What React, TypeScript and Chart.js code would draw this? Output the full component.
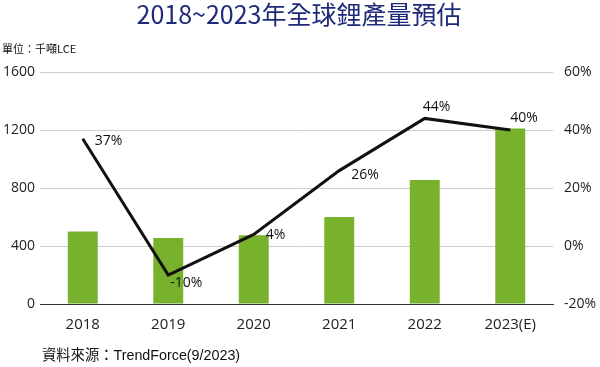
import React, { useEffect, useRef } from "react";
import { Chart, registerables } from "chart.js";

Chart.register(...registerables);

const categories = ["2018", "2019", "2020", "2021", "2022", "2023(E)"];
const production = [500, 455, 475, 600, 855, 1210];
const growth = [37, -10, 4, 26, 44, 40];
const growthLabels = ["37%", "-10%", "4%", "26%", "44%", "40%"];
const leftTicks = [0, 400, 800, 1200, 1600];
const rightTicks = [-20, 0, 20, 40, 60];

const titleText = "2018~2023年全球鋰產量預估";
const unitText = "單位：千噸LCE";
const sourceText = "資料來源：TrendForce(9/2023)";

const labelOffsets = [
  { dx: 12, dy: 2 },
  { dx: 2, dy: 8 },
  { dx: 12, dy: 1 },
  { dx: 12, dy: 4 },
  { dx: -2, dy: -11 },
  { dx: 0, dy: -12 },
];

const FONT = "'Open Sans', 'Noto Sans', sans-serif";
const CJK = "'Noto Sans CJK TC', 'Noto Sans', sans-serif";
const SRC = "'Liberation Sans', 'Noto Sans CJK TC', sans-serif";

const textPlugin = {
  id: "texts",
  afterDatasetsDraw(chart: any) {
    const ctx = chart.ctx;
    ctx.save();
    const meta = chart.getDatasetMeta(1);
    ctx.font = `14px ${FONT}`;
    ctx.fillStyle = "#111";
    ctx.textBaseline = "middle";
    ctx.textAlign = "left";
    meta.data.forEach((pt: any, i: number) => {
      const o = labelOffsets[i];
      ctx.fillText(growthLabels[i], pt.x + o.dx, pt.y + o.dy);
    });
    ctx.font = `400 25px ${CJK}`;
    ctx.fillStyle = "#1f2a78";
    ctx.textAlign = "center";
    ctx.fillText(titleText, 299, 14);
    ctx.font = `11px ${CJK}`;
    ctx.fillStyle = "#111";
    ctx.textAlign = "left";
    ctx.fillText(unitText, 2, 49);
    ctx.font = `14.3px ${SRC}`;
    ctx.fillText(sourceText, 42, 356);
    ctx.restore();
  },
};

export default function App() {
  const ref = useRef<HTMLCanvasElement>(null);
  useEffect(() => {
    if (!ref.current) return;
    const chart = new Chart(ref.current, {
      type: "bar",
      data: {
        labels: categories,
        datasets: [
          {
            type: "bar",
            data: production,
            backgroundColor: "#78b12b",
            yAxisID: "y",
            barPercentage: 0.7,
            categoryPercentage: 0.5,
            order: 2,
          },
          {
            type: "line",
            data: growth,
            borderColor: "#111",
            borderWidth: 3,
            pointRadius: 0,
            yAxisID: "y1",
            tension: 0,
            order: 1,
          } as any,
        ],
      },
      options: {
        animation: false,
        responsive: false,
        maintainAspectRatio: false,
        layout: { padding: { top: 72, left: 0, right: 0, bottom: 0 } },
        plugins: { legend: { display: false }, tooltip: { enabled: false }, title: { display: false } },
        scales: {
          x: {
            grid: { display: false },
            border: { display: true, color: "#333", width: 1 },
            ticks: { font: { family: FONT, size: 15 }, color: "#222", padding: 4 },
            afterFit: (s: any) => { s.height = 63; },
          },
          y: {
            position: "left",
            min: 0,
            max: 1600,
            afterBuildTicks: (s: any) => { s.ticks = leftTicks.map((v) => ({ value: v })); },
            grid: { color: "#cccccc", drawTicks: false },
            border: { display: false },
            ticks: { font: { family: FONT, size: 14 }, color: "#222", padding: 5, callback: (v: any) => String(v) },
            afterFit: (s: any) => { s.width = 40; },
          },
          y1: {
            position: "right",
            min: -20,
            max: 60,
            afterBuildTicks: (s: any) => { s.ticks = rightTicks.map((v) => ({ value: v })); },
            grid: { display: false, drawTicks: false },
            border: { display: false },
            ticks: { font: { family: FONT, size: 14 }, color: "#222", padding: 11, callback: (v: any) => `${v}%` },
            afterFit: (s: any) => { s.width = 47; },
          },
        },
      },
      plugins: [textPlugin],
    });
    return () => chart.destroy();
  }, []);
  return (
    <div style={{ position: "fixed", left: 0, top: 0, width: 600, height: 367, background: "#fff" }}>
      <canvas ref={ref} width={600} height={367} style={{ width: 600, height: 367 }} />
    </div>
  );
}
